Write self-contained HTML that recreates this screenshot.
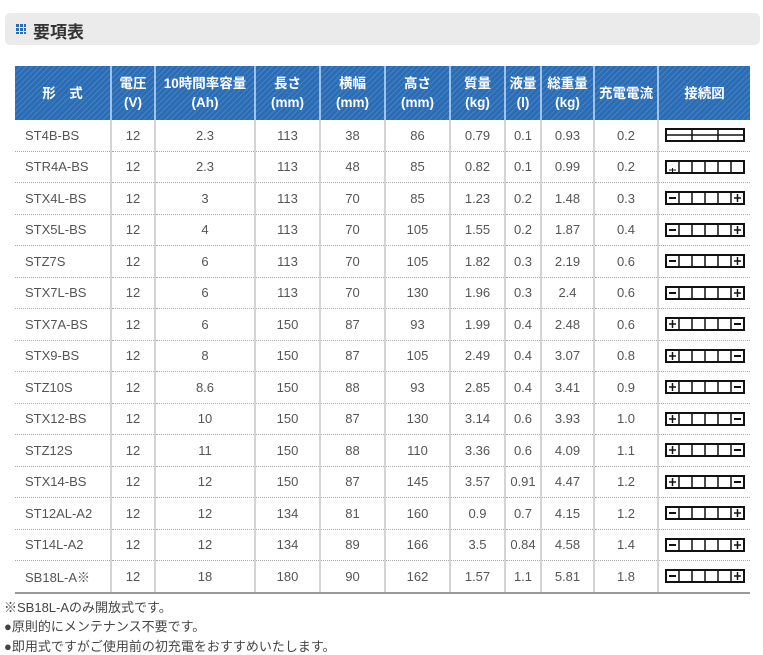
<!DOCTYPE html><html><head><meta charset="utf-8"><style>
body{margin:0;background:#fff;font-family:"Liberation Sans","Noto Sans CJK JP",sans-serif;width:763px;height:655px;overflow:hidden;position:relative}
.title{position:absolute;left:5px;top:13px;width:755px;height:32px;background:#ebebeb;border-radius:5px}
.title span{position:absolute;left:28px;top:5px;font-size:17px;font-weight:bold;color:#333}
.ico{position:absolute;left:16px;top:24px;width:10px;height:10px;
background:linear-gradient(90deg,transparent 3px,#ebebeb 3px,#ebebeb 4px,transparent 4px,transparent 7px,#ebebeb 7px,#ebebeb 8px,transparent 8px),
linear-gradient(180deg,#2a6db5 3px,#ebebeb 3px,#ebebeb 4px,#2a6db5 4px,#2a6db5 7px,#ebebeb 7px,#ebebeb 8px,#2a6db5 8px)}
table{position:absolute;left:15px;top:66px;border-collapse:collapse;table-layout:fixed;width:735px}
th{height:54px;padding:0;color:#fff;font-size:13.5px;font-weight:bold;line-height:19px;border-left:2px solid #9fc3e8;
background:#2a6db5 repeating-linear-gradient(135deg,rgba(255,255,255,.13) 0 1px,transparent 1px 4px)}
th:first-child{border-left:none}
td{height:30.5px;padding:0;text-align:center;font-size:13px;color:#555;border-left:2px solid #d4d4d4;border-bottom:1px dotted #aaa}
td:first-child{border-left:none;text-align:left;padding-left:10px}
tr:last-child td{border-bottom:2px solid #999}
.note{position:absolute;left:4px;font-size:13px;color:#444}
svg{display:block;margin:0 auto}
</style></head><body>
<div class="title"><span>要項表</span></div><div class="ico"></div>
<table>
<colgroup><col style="width:96px"><col style="width:44px"><col style="width:100px"><col style="width:65px"><col style="width:65px"><col style="width:65px"><col style="width:55px"><col style="width:36px"><col style="width:53px"><col style="width:64px"><col style="width:92px"></colgroup>
<tr><th>形　式</th><th>電圧<br>(V)</th><th>10時間率容量<br>(Ah)</th><th>長さ<br>(mm)</th><th>横幅<br>(mm)</th><th>高さ<br>(mm)</th><th>質量<br>(kg)</th><th>液量<br>(l)</th><th>総重量<br>(kg)</th><th>充電電流</th><th>接続図</th></tr>
<tr><td>ST4B-BS</td><td>12</td><td>2.3</td><td>113</td><td>38</td><td>86</td><td>0.79</td><td>0.1</td><td>0.93</td><td>0.2</td><td>A</td></tr>
<tr><td>STR4A-BS</td><td>12</td><td>2.3</td><td>113</td><td>48</td><td>85</td><td>0.82</td><td>0.1</td><td>0.99</td><td>0.2</td><td>B</td></tr>
<tr><td>STX4L-BS</td><td>12</td><td>3</td><td>113</td><td>70</td><td>85</td><td>1.23</td><td>0.2</td><td>1.48</td><td>0.3</td><td>M</td></tr>
<tr><td>STX5L-BS</td><td>12</td><td>4</td><td>113</td><td>70</td><td>105</td><td>1.55</td><td>0.2</td><td>1.87</td><td>0.4</td><td>M</td></tr>
<tr><td>STZ7S</td><td>12</td><td>6</td><td>113</td><td>70</td><td>105</td><td>1.82</td><td>0.3</td><td>2.19</td><td>0.6</td><td>M</td></tr>
<tr><td>STX7L-BS</td><td>12</td><td>6</td><td>113</td><td>70</td><td>130</td><td>1.96</td><td>0.3</td><td>2.4</td><td>0.6</td><td>M</td></tr>
<tr><td>STX7A-BS</td><td>12</td><td>6</td><td>150</td><td>87</td><td>93</td><td>1.99</td><td>0.4</td><td>2.48</td><td>0.6</td><td>P</td></tr>
<tr><td>STX9-BS</td><td>12</td><td>8</td><td>150</td><td>87</td><td>105</td><td>2.49</td><td>0.4</td><td>3.07</td><td>0.8</td><td>P</td></tr>
<tr><td>STZ10S</td><td>12</td><td>8.6</td><td>150</td><td>88</td><td>93</td><td>2.85</td><td>0.4</td><td>3.41</td><td>0.9</td><td>P</td></tr>
<tr><td>STX12-BS</td><td>12</td><td>10</td><td>150</td><td>87</td><td>130</td><td>3.14</td><td>0.6</td><td>3.93</td><td>1.0</td><td>P</td></tr>
<tr><td>STZ12S</td><td>12</td><td>11</td><td>150</td><td>88</td><td>110</td><td>3.36</td><td>0.6</td><td>4.09</td><td>1.1</td><td>P</td></tr>
<tr><td>STX14-BS</td><td>12</td><td>12</td><td>150</td><td>87</td><td>145</td><td>3.57</td><td>0.91</td><td>4.47</td><td>1.2</td><td>P</td></tr>
<tr><td>ST12AL-A2</td><td>12</td><td>12</td><td>134</td><td>81</td><td>160</td><td>0.9</td><td>0.7</td><td>4.15</td><td>1.2</td><td>M</td></tr>
<tr><td>ST14L-A2</td><td>12</td><td>12</td><td>134</td><td>89</td><td>166</td><td>3.5</td><td>0.84</td><td>4.58</td><td>1.4</td><td>M</td></tr>
<tr><td>SB18L-A※</td><td>12</td><td>18</td><td>180</td><td>90</td><td>162</td><td>1.57</td><td>1.1</td><td>5.81</td><td>1.8</td><td>M</td></tr>
</table>
<div class="note" style="top:597px">※SB18L-Aのみ開放式です。</div>
<div class="note" style="top:616px">●原則的にメンテナンス不要です。</div>
<div class="note" style="top:636px">●即用式ですがご使用前の初充電をおすすめいたします。</div>
<script>
function cells(){let s='<rect x="1" y="1" width="78" height="12" fill="#fff" stroke="#111" stroke-width="2"/>';for(let i=1;i<6;i++)s+=`<line x1="${1+i*13}" y1="1" x2="${1+i*13}" y2="13" stroke="#111" stroke-width="1.5"/>`;return s}
const minus=x=>`<line x1="${x+3}" y1="7" x2="${x+10}" y2="7" stroke="#111" stroke-width="2"/>`;
const plus=x=>`<line x1="${x+3}" y1="7" x2="${x+10}" y2="7" stroke="#111" stroke-width="1.5"/><line x1="${x+6.5}" y1="3" x2="${x+6.5}" y2="11" stroke="#111" stroke-width="1.5"/>`;
const D={
A:'<rect x="1" y="1" width="78" height="12" fill="#fff" stroke="#111" stroke-width="2"/><line x1="1" y1="7" x2="79" y2="7" stroke="#111" stroke-width="1.5"/><line x1="27" y1="1" x2="27" y2="13" stroke="#111" stroke-width="1.5"/><line x1="53" y1="1" x2="53" y2="13" stroke="#111" stroke-width="1.5"/>',
B:cells()+'<line x1="4" y1="10" x2="11" y2="10" stroke="#111"/><line x1="7.5" y1="8" x2="7.5" y2="12" stroke="#111"/>',
M:cells()+minus(1)+plus(66),P:cells()+plus(1)+minus(66)};
document.querySelectorAll('td:last-child').forEach(td=>{const k=td.textContent;td.innerHTML=`<svg width="80" height="14">${D[k]}</svg>`});
</script>
</body></html>
